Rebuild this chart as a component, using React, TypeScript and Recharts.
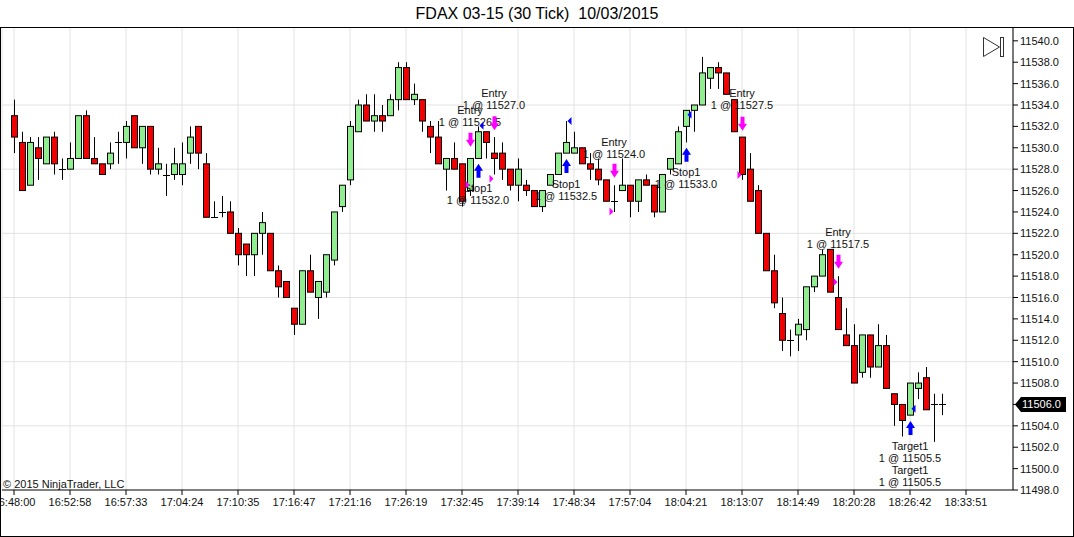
import React from 'react';
import { ComposedChart, Bar, Scatter, XAxis, YAxis, CartesianGrid } from 'recharts';

// ---- data ----
const TIME_LABELS = [
  '16:48:00', '16:52:58', '16:57:33', '17:04:24', '17:10:35', '17:16:47',
  '17:21:16', '17:26:19', '17:32:45', '17:39:14', '17:48:34', '17:57:04',
  '18:04:21', '18:13:07', '18:14:49', '18:20:28', '18:26:42', '18:33:51',
];
const TIME_TICKS = [0, 7, 14, 21, 28, 35, 42, 49, 56, 63, 70, 77, 84, 91, 98, 105, 112, 119];

const PRICE_TICKS = [
  11498, 11500, 11502, 11504, 11506, 11508, 11510, 11512, 11514, 11516, 11518,
  11520, 11522, 11524, 11526, 11528, 11530, 11532, 11534, 11536, 11538, 11540,
];
const GRID_PRICES = [11504, 11510, 11516, 11522, 11528, 11534];
const LAST_PRICE = 11506;

const OPEN = [
  11533, 11530.5, 11526.5, 11530, 11528.5, 11531, 11528, 11528, 11529, 11533,
  11529, 11528.5, 11528.5, 11530.5, 11530.5, 11533, 11530, 11532, 11528, 11527.5,
  11527.5, 11527.5, 11529.5, 11532, 11528.5, 11523.5, 11524, 11524, 11522, 11521,
  11520, 11522, 11522, 11518.5, 11517.5, 11515, 11513.5, 11518.5, 11516, 11516.5,
  11519.5, 11524.5, 11527, 11531.5, 11534, 11532.5, 11533, 11533, 11534.5, 11537.5,
  11534.5, 11534.5, 11532, 11531, 11528, 11529, 11528.5, 11526, 11529, 11531.5,
  11529.5, 11529.5, 11528, 11526.5, 11526.5, 11526, 11524.5, 11526.5, 11527.5, 11529.5,
  11529.5, 11530, 11528.5, 11528, 11527, 11525, 11526, 11526.5, 11525, 11527,
  11526.5, 11524, 11528, 11528.5, 11532, 11533.5, 11534, 11536.5, 11537.5, 11537,
  11534.5, 11531, 11528, 11526, 11522, 11518.5, 11514.5, 11512, 11512.5, 11513,
  11517, 11518, 11520.5, 11516, 11512.5, 11511.5, 11509, 11512.5, 11509.5, 11511.5,
  11507, 11506, 11505, 11507.5, 11508.5, 11506, 11506,
];
const HIGH = [
  11534.5, 11531.5, 11531, 11531, 11531, 11531.5, 11529, 11530.5, 11533, 11533.5,
  11531, 11528.5, 11530.5, 11531.5, 11532.5, 11533, 11532, 11532, 11530, 11528.5,
  11530, 11530.5, 11532, 11532, 11529.5, 11525, 11525.5, 11525, 11522.5, 11521,
  11522, 11524, 11522, 11519, 11517.5, 11515, 11518.5, 11520, 11517.5, 11520,
  11524, 11526.5, 11532.5, 11534.5, 11535, 11535, 11534, 11535, 11538, 11538,
  11536, 11534.5, 11532.5, 11532.5, 11529, 11530.5, 11528.5, 11529, 11532, 11531.5,
  11531, 11530.5, 11528, 11529, 11527, 11526, 11526, 11527.5, 11529.5, 11532.5,
  11531.5, 11530, 11529.5, 11529, 11527, 11526.5, 11529, 11526.5, 11527, 11527.5,
  11526.5, 11527.5, 11529, 11532, 11533.5, 11534, 11538.5, 11537.5, 11538, 11537,
  11534.5, 11531, 11529.5, 11526.5, 11522, 11520, 11516, 11513, 11514, 11517,
  11518, 11520.5, 11520.5, 11518, 11515, 11513.5, 11512.5, 11512.5, 11513.5, 11512.5,
  11507, 11506, 11508, 11509, 11509.5, 11507, 11507,
];
const LOW = [
  11529.5, 11526, 11526.5, 11527, 11528.5, 11527.5, 11527, 11528, 11529, 11529,
  11528.5, 11527.5, 11528, 11528.5, 11529, 11530, 11528.5, 11527.5, 11527.5, 11525.5,
  11527, 11526.5, 11528.5, 11528, 11523.5, 11523.5, 11523.5, 11522, 11519, 11518,
  11518, 11520, 11518.5, 11516, 11516, 11512.5, 11513.5, 11516.5, 11514, 11516,
  11519, 11524, 11526.5, 11531.5, 11532.5, 11531.5, 11531.5, 11533, 11533.5, 11534.5,
  11534, 11531.5, 11529.5, 11528.5, 11526, 11528, 11524.5, 11525.5, 11529, 11529,
  11527.5, 11527, 11526, 11525, 11525.5, 11524.5, 11524, 11526.5, 11527.5, 11529.5,
  11529.5, 11528.5, 11527, 11526.5, 11525, 11524, 11526, 11523.5, 11524, 11526.5,
  11523.5, 11524, 11527.5, 11528.5, 11530.5, 11531.5, 11534, 11535.5, 11535.5, 11535,
  11531.5, 11527, 11525, 11522, 11518.5, 11515, 11511, 11510.5, 11511, 11512,
  11516.5, 11518, 11516.5, 11513, 11511.5, 11508, 11508.5, 11508.5, 11509.5, 11507.5,
  11504, 11503, 11505, 11506.5, 11505.5, 11502.5, 11505,
];
const CLOSE = [
  11531, 11526, 11530.5, 11529, 11531, 11528.5, 11528, 11529, 11533, 11529,
  11528.5, 11527.5, 11529.5, 11530.5, 11532, 11530, 11532, 11528, 11528.5, 11527.5,
  11528.5, 11528.5, 11531, 11529.5, 11523.5, 11523.5, 11524, 11522, 11520, 11520,
  11522, 11523, 11518.5, 11517, 11516, 11513.5, 11518.5, 11516.5, 11517.5, 11520,
  11524, 11526.5, 11532, 11534, 11532.5, 11533, 11532.5, 11534.5, 11537.5, 11534.5,
  11535, 11532.5, 11531, 11528.5, 11529, 11528, 11525, 11529, 11531.5, 11530.5,
  11529, 11528, 11526.5, 11528, 11526, 11524.5, 11526, 11527.5, 11529.5, 11530.5,
  11530, 11528.5, 11528, 11527, 11525, 11525, 11526.5, 11525, 11527, 11526.5,
  11524, 11527.5, 11529, 11531.5, 11533.5, 11534, 11537, 11537.5, 11537, 11535,
  11531.5, 11527.5, 11525, 11522, 11518.5, 11515.5, 11512, 11512, 11513.5, 11517,
  11518, 11520, 11516.5, 11513, 11511.5, 11508, 11512.5, 11509.5, 11511.5, 11507.5,
  11506, 11504.5, 11508, 11508, 11505.5, 11506, 11506,
];

// execution markers: bar index, price, kind
const MARKER_BAR = [57, 58, 60, 58, 60, 57, 69, 69, 75, 75, 84, 84, 91, 91, 103, 103, 112, 112];
const MARKER_PRICE = [
  11530.75, 11527.85, 11532.3, 11532.05, 11527.1, 11526.55, 11528.3, 11532.5, 11527.85, 11524.05,
  11529.35, 11533.1, 11532.25, 11527.45, 11519.35, 11517.45, 11503.8, 11505.6,
];
const MARKER_KIND = [
  'down', 'up', 'down', 'left', 'right', 'right', 'up', 'left', 'down', 'right',
  'up', 'left', 'down', 'right', 'down', 'right', 'up', 'left',
];

// text annotations
const NOTE_BAR = [57, 60, 58, 69, 75, 84, 91, 103, 112];
const NOTE_PRICE = [11533.55, 11535.15, 11526.25, 11526.6, 11530.55, 11527.75, 11535.15, 11522.15, 11502.1];
const NOTE_LINES = [
  ['Entry', '1 @ 11526.5'],
  ['Entry', '1 @ 11527.0'],
  ['Stop1', '1 @ 11532.0'],
  ['Stop1', '1 @ 11532.5'],
  ['Entry', '1 @ 11524.0'],
  ['Stop1', '1 @ 11533.0'],
  ['Entry', '1 @ 11527.5'],
  ['Entry', '1 @ 11517.5'],
  ['Target1', '1 @ 11505.5', 'Target1', '1 @ 11505.5'],
];

const candles = OPEN.map((o, i) => ({
  i,
  o,
  h: HIGH[i],
  l: LOW[i],
  c: CLOSE[i],
  range: [LOW[i], HIGH[i]],
}));
const markers = MARKER_BAR.map((i, k) => ({ i, p: MARKER_PRICE[k], kind: MARKER_KIND[k] }));
const notes = NOTE_BAR.map((i, k) => ({ i, p: NOTE_PRICE[k], lines: NOTE_LINES[k] }));

const FONT = "'Liberation Sans', Arial, Helvetica, sans-serif";
const UP = '#90ee90';
const DOWN = '#f00000';
const MAGENTA = '#ff00ff';
const BLUE = '#0000ff';

const Candle = (props: any) => {
  const { x, y, width, height, index } = props;
  const d = props.payload && props.payload.h !== undefined ? props.payload : candles[index];
  if (x == null || y == null || !d) return null;
  const top = Math.min(y, y + height);
  const hPix = Math.abs(height);
  const k = hPix / (d.h - d.l);
  const py = (v: number) => top + (d.h - v) * k;
  const cx = Math.round(x + width / 2);
  const yTop = py(Math.max(d.o, d.c));
  const yBot = py(Math.min(d.o, d.c));
  const up = d.c > d.o;
  return (
    <g>
      <line x1={cx + 0.5} x2={cx + 0.5} y1={top} y2={top + hPix} stroke="#000" strokeWidth={1} />
      {d.o === d.c ? (
        <line x1={cx - 3} x2={cx + 4} y1={Math.round(yTop) + 0.5} y2={Math.round(yTop) + 0.5} stroke="#000" strokeWidth={1} />
      ) : (
        <rect x={cx - 2.5} y={yTop} width={6} height={yBot - yTop} fill={up ? UP : DOWN} stroke="#000" strokeWidth={1} />
      )}
    </g>
  );
};

const Marker = (props: any) => {
  const { cx, cy, payload } = props;
  if (cx == null || cy == null || !payload) return null;
  const x = Math.round(cx) + 0.5;
  const y = cy;
  switch (payload.kind) {
    case 'down':
      return (
        <path
          d={`M${x - 2},${y - 7} L${x + 2},${y - 7} L${x + 2},${y} L${x + 4.5},${y} L${x},${y + 7} L${x - 4.5},${y} L${x - 2},${y} Z`}
          fill={MAGENTA}
        />
      );
    case 'up':
      return (
        <path
          d={`M${x - 2},${y + 7} L${x + 2},${y + 7} L${x + 2},${y} L${x + 4.5},${y} L${x},${y - 7} L${x - 4.5},${y} L${x - 2},${y} Z`}
          fill={BLUE}
        />
      );
    case 'left':
      return <path d={`M${x + 1},${y} L${x + 5},${y - 4} L${x + 5},${y + 4} Z`} fill={BLUE} />;
    case 'right':
      return <path d={`M${x - 1},${y} L${x - 5},${y - 4} L${x - 5},${y + 4} Z`} fill={MAGENTA} />;
    default:
      return null;
  }
};

const Note = (props: any) => {
  const { cx, cy, payload } = props;
  if (cx == null || cy == null || !payload) return null;
  return (
    <g>
      {payload.lines.map((t: string, k: number) => (
        <text
          key={k}
          x={cx}
          y={cy + k * 12}
          textAnchor="middle"
          dominantBaseline="central"
          fontSize={11}
          fontFamily={FONT}
          fill="#111"
        >
          {t}
        </text>
      ))}
    </g>
  );
};

const PriceTick = (props: any) => {
  const { x, y, payload } = props;
  const v = payload.value;
  if (v === LAST_PRICE) {
    return (
      <g>
        <path d={`M${x - 5},${y} L${x + 1},${y - 7.5} L${x + 46},${y - 7.5} L${x + 46},${y + 7.5} L${x + 1},${y + 7.5} Z`} fill="#000" />
        <text x={x + 2} y={y} dominantBaseline="central" fontSize={11} fontFamily={FONT} fill="#fff">
          {v.toFixed(1)}
        </text>
      </g>
    );
  }
  return (
    <text x={x} y={y} dominantBaseline="central" fontSize={11} fontFamily={FONT} fill="#111">
      {v.toFixed(1)}
    </text>
  );
};

export default function App() {
  return (
    <div style={{ position: 'relative', width: 1074, height: 537, background: '#fff', overflow: 'hidden' }}>
      <style>{'body{margin:0;background:#fff;}'}</style>
      <div
        style={{
          position: 'absolute',
          left: 0,
          top: 0,
          width: 1074,
          height: 27,
          lineHeight: '28px',
          textAlign: 'center',
          fontFamily: FONT,
          fontSize: 16,
          color: '#000',
          whiteSpace: 'pre',
        }}
      >
        {'FDAX 03-15 (30 Tick)  10/03/2015'}
      </div>
      <div style={{ position: 'absolute', left: 0, top: 0 }}>
        <ComposedChart
          width={1074}
          height={537}
          data={candles}
          margin={{ top: 28, right: 0, bottom: 0, left: 2 }}
        >
          <CartesianGrid
            stroke="#e2e2e2"
            vertical={true}
            horizontal={true}
            horizontalValues={GRID_PRICES}
          />
          <XAxis
            dataKey="i"
            type="number"
            domain={[-1.5, 124.875]}
            allowDataOverflow
            ticks={TIME_TICKS}
            interval={0}
            tickFormatter={(v: number) => TIME_LABELS[TIME_TICKS.indexOf(v)] ?? ''}
            height={47}
            tickSize={5}
            tickMargin={3}
            stroke="#000"
            axisLine={{ stroke: '#000' }}
            tickLine={{ stroke: '#000' }}
            tick={{ fontSize: 11, fill: '#111', fontFamily: FONT }}
          />
          <YAxis
            orientation="right"
            type="number"
            domain={[11498, 11541.2]}
            allowDataOverflow
            ticks={PRICE_TICKS}
            interval={0}
            width={61}
            tickSize={5}
            tickMargin={2}
            axisLine={{ stroke: '#000' }}
            tickLine={{ stroke: '#000' }}
            tick={<PriceTick />}
          />
          <Bar dataKey="range" shape={<Candle />} isAnimationActive={false} />
          <Scatter data={notes} dataKey="p" shape={<Note />} isAnimationActive={false} />
          <Scatter data={markers} dataKey="p" shape={<Marker />} isAnimationActive={false} />
        </ComposedChart>
      </div>
      <div
        style={{
          position: 'absolute',
          left: 3,
          top: 478,
          fontFamily: FONT,
          fontSize: 11,
          color: '#111',
          whiteSpace: 'pre',
        }}
      >
        © 2015 NinjaTrader, LLC
      </div>
      <svg style={{ position: 'absolute', left: 980, top: 34 }} width={28} height={26}>
        <path d="M3.5,3.5 L19.5,13 L3.5,22.5 Z" fill="none" stroke="#333" strokeWidth={1} />
        <rect x={20.5} y={3.5} width={3} height={19} fill="none" stroke="#333" strokeWidth={1} />
      </svg>
      <div
        style={{
          position: 'absolute',
          left: 0,
          top: 27,
          width: 1074,
          height: 510,
          boxSizing: 'border-box',
          border: '1px solid #000',
          pointerEvents: 'none',
        }}
      />
    </div>
  );
}
